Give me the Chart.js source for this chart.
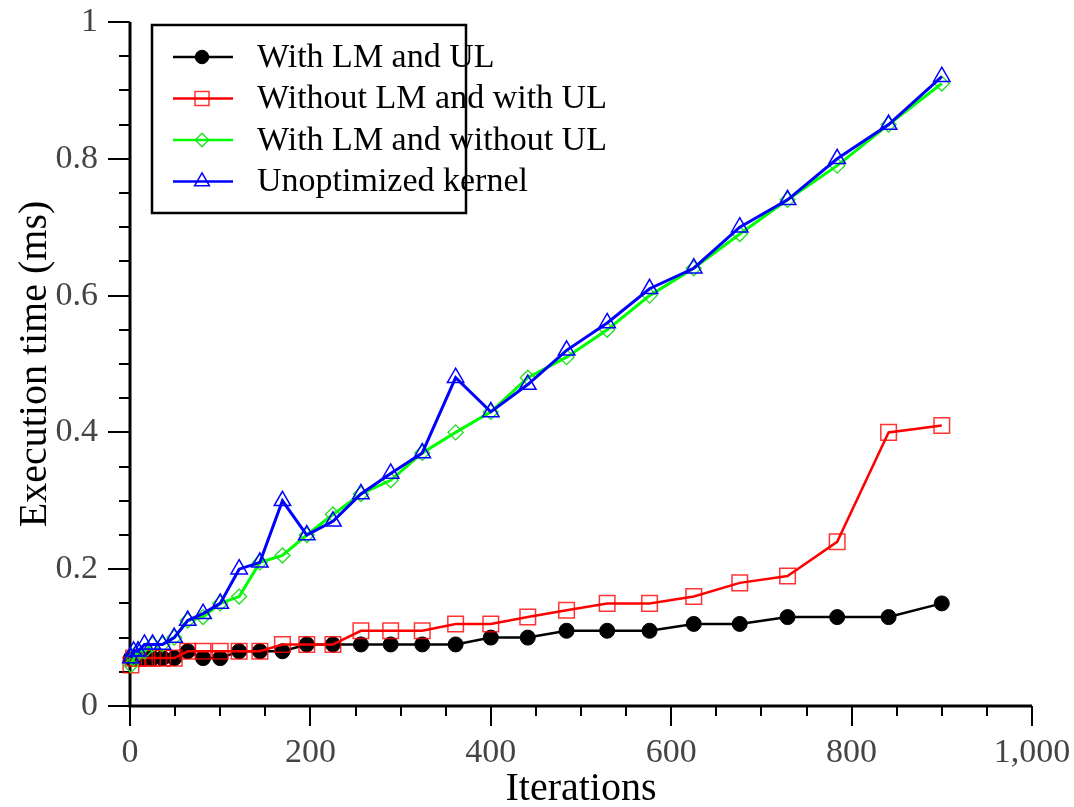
<!DOCTYPE html>
<html>
<head>
<meta charset="utf-8">
<script src="https://cdn.jsdelivr.net/npm/chart.js@4.4.0/dist/chart.umd.min.js"></script>
<style>
  html, body { margin: 0; padding: 0; background: #fff; }
</style>
</head>
<body>
<canvas id="timeChart" width="1074" height="807"></canvas>
<script>
// iteration counts on the x axis
const iterations = [1, 4, 9, 16, 25, 36, 49, 64, 81, 100, 121, 144, 169, 196, 225,
    256, 289, 324, 361, 400, 441, 484, 529, 576, 625, 676, 729, 784, 841, 900];

// execution time (ms) per configuration
const withLmUl = [0.07, 0.07, 0.07, 0.07, 0.07, 0.07, 0.07, 0.08, 0.07, 0.07, 0.08, 0.08, 0.08, 0.09, 0.09,
    0.09, 0.09, 0.09, 0.09, 0.10, 0.10, 0.11, 0.11, 0.11, 0.12, 0.12, 0.13, 0.13, 0.13, 0.15];
const withoutLmWithUl = [0.06, 0.07, 0.07, 0.07, 0.07, 0.07, 0.07, 0.08, 0.08, 0.08, 0.08, 0.08, 0.09, 0.09, 0.09,
    0.11, 0.11, 0.11, 0.12, 0.12, 0.13, 0.14, 0.15, 0.15, 0.16, 0.18, 0.19, 0.24, 0.40, 0.41];
const withLmWithoutUl = [0.06, 0.07, 0.08, 0.08, 0.09, 0.09, 0.10, 0.125, 0.13, 0.15, 0.16, 0.21, 0.22, 0.25, 0.28,
    0.31, 0.33, 0.37, 0.40, 0.43, 0.48, 0.51, 0.55, 0.60, 0.64, 0.69, 0.74, 0.79, 0.85, 0.91];
const unoptimized = [0.07, 0.08, 0.08, 0.09, 0.09, 0.09, 0.10, 0.125, 0.135, 0.15, 0.20, 0.21, 0.30, 0.25, 0.27,
    0.31, 0.34, 0.37, 0.48, 0.43, 0.47, 0.52, 0.56, 0.61, 0.64, 0.70, 0.74, 0.80, 0.85, 0.92];

const seriesNames = ['With LM and UL', 'Without LM and with UL', 'With LM and without UL', 'Unoptimized kernel'];

const serif = "'Liberation Serif', 'Times New Roman', serif";
const toPoints = vals => vals.map((v, i) => ({ x: iterations[i], y: v }));

// axis lines plus major / minor ticks (chart.js has no minor ticks)
const axisTicks = {
    id: 'axisTicks',
    beforeDatasetsDraw(chart) {
        const { ctx, chartArea: a, scales: { x, y } } = chart;
        ctx.save();
        ctx.strokeStyle = '#000';
        ctx.lineWidth = 3;
        ctx.beginPath();
        ctx.moveTo(a.left, a.top);
        ctx.lineTo(a.left, a.bottom);
        ctx.lineTo(a.right, a.bottom);
        ctx.stroke();
        ctx.lineWidth = 2;
        ctx.beginPath();
        for (let v = 0; v <= 1000; v += 50) {
            const px = Math.round(x.getPixelForValue(v));
            ctx.moveTo(px, a.bottom);
            ctx.lineTo(px, a.bottom + (v % 200 === 0 ? 20 : 10));
        }
        for (let k = 0; k <= 20; k++) {
            const py = Math.round(y.getPixelForValue(k * 0.05));
            ctx.moveTo(a.left, py);
            ctx.lineTo(a.left - (k % 4 === 0 ? 22 : 11), py);
        }
        ctx.stroke();
        ctx.restore();
    }
};

// boxed legend with line + marker samples
const lineLegend = {
    id: 'lineLegend',
    afterDraw(chart) {
        const { ctx, chartArea: a } = chart;
        const left = a.left + 22, top = a.top + 3;
        ctx.save();
        ctx.strokeStyle = '#000';
        ctx.lineWidth = 2.5;
        ctx.strokeRect(left, top, 314, 188);
        chart.data.datasets.forEach((ds, i) => {
            const cy = top + 32 + i * 41.5;
            ctx.strokeStyle = ds.borderColor;
            ctx.lineWidth = 2.5;
            ctx.beginPath();
            ctx.moveTo(left + 21, cy);
            ctx.lineTo(left + 81, cy);
            ctx.stroke();
            ctx.strokeStyle = ds.pointBorderColor;
            ctx.fillStyle = ds.pointBackgroundColor;
            ctx.lineWidth = ds.pointBorderWidth;
            Chart.helpers.drawPoint(ctx, {
                pointStyle: ds.pointStyle,
                radius: ds.pointRadius * 0.9,
                rotation: 0,
                borderWidth: ds.pointBorderWidth
            }, left + 50, cy);
            ctx.fillStyle = '#000';
            ctx.font = '34px ' + serif;
            ctx.textBaseline = 'middle';
            ctx.fillText(ds.label, left + 105, cy + 1);
        });
        ctx.restore();
    }
};

const ctx = document.getElementById('timeChart').getContext('2d');
new Chart(ctx, {
    type: 'line',
    data: {
        datasets: [{
            label: seriesNames[0],
            data: toPoints(withLmUl),
            borderColor: '#000000',
            borderWidth: 2.5,
            pointStyle: 'circle',
            pointRadius: 7.5,
            pointBackgroundColor: '#000000',
            pointBorderColor: '#000000',
            pointBorderWidth: 1,
            order: 4
        }, {
            label: seriesNames[1],
            data: toPoints(withoutLmWithUl),
            borderColor: '#ff0000',
            borderWidth: 2.5,
            pointStyle: 'rect',
            pointRadius: 11,
            pointBackgroundColor: 'rgba(0,0,0,0)',
            pointBorderColor: 'rgba(255,0,0,0.8)',
            pointBorderWidth: 1.5,
            order: 3
        }, {
            label: seriesNames[2],
            data: toPoints(withLmWithoutUl),
            borderColor: '#00ff00',
            borderWidth: 3,
            pointStyle: 'rectRot',
            pointRadius: 7.5,
            pointBackgroundColor: 'rgba(0,0,0,0)',
            pointBorderColor: '#22dd22',
            pointBorderWidth: 1.3,
            order: 2
        }, {
            label: seriesNames[3],
            data: toPoints(unoptimized),
            borderColor: '#0000ff',
            borderWidth: 3,
            pointStyle: 'triangle',
            pointRadius: 9.5,
            pointBackgroundColor: 'rgba(0,0,0,0)',
            pointBorderColor: '#0000ff',
            pointBorderWidth: 1.5,
            order: 1
        }]
    },
    options: {
        responsive: false,
        animation: false,
        clip: false,
        layout: { padding: { left: 0, right: 42, top: 22, bottom: 0 } },
        plugins: {
            legend: { display: false },
            tooltip: { enabled: false }
        },
        elements: { line: { tension: 0 } },
        scales: {
            x: {
                type: 'linear',
                min: 0,
                max: 1000,
                afterFit: s => {
                    s.height = 101;
                    s.paddingLeft = 0;
                    s.paddingRight = 0;
                },
                grid: { display: false, drawTicks: false },
                border: { display: false },
                ticks: {
                    stepSize: 200,
                    padding: 27,
                    color: '#444',
                    font: { family: serif, size: 34 }
                },
                title: {
                    display: true,
                    text: 'Iterations',
                    color: '#000',
                    padding: 0,
                    font: { family: serif, size: 40, lineHeight: 0.9 }
                }
            },
            y: {
                min: 0,
                max: 1,
                afterFit: s => {
                    s.width = 130;
                    s.paddingTop = 0;
                    s.paddingBottom = 0;
                },
                grid: { display: false, drawTicks: false },
                border: { display: false },
                ticks: {
                    stepSize: 0.2,
                    padding: 32,
                    color: '#444',
                    font: { family: serif, size: 34 },
                    callback: v => String(Number(v.toFixed(1)))
                },
                title: {
                    display: true,
                    text: 'Execution time (ms)',
                    color: '#000',
                    padding: { top: 15, bottom: 0 },
                    font: { family: serif, size: 40, lineHeight: 1 }
                }
            }
        }
    },
    plugins: [axisTicks, lineLegend]
});
</script>
</body>
</html>
